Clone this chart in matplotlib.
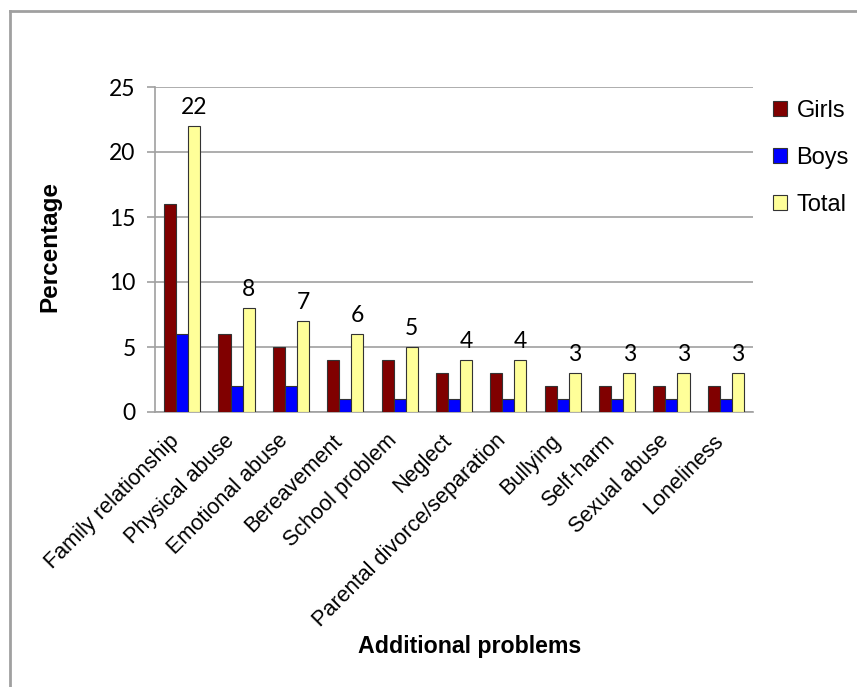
import numpy as np
import matplotlib.pyplot as plt
from matplotlib.lines import Line2D
from matplotlib.transforms import ScaledTranslation

# data
problems = ["Family relationship", "Physical abuse", "Emotional abuse", "Bereavement",
            "School problem", "Neglect", "Parental divorce/separation", "Bullying",
            "Self-harm", "Sexual abuse", "Loneliness"]
girls = [16, 6, 5, 4, 4, 3, 3, 2, 2, 2, 2]
boys = [6, 2, 2, 1, 1, 1, 1, 1, 1, 1, 1]
total = [22, 8, 7, 6, 5, 4, 4, 3, 3, 3, 3]
y_ticks = [0, 5, 10, 15, 20, 25]

W, H = 857, 687
fig = plt.figure(figsize=(W / 100, H / 100), dpi=100)
ax = fig.add_axes([155 / W, 1 - 412 / H, (753 - 155) / W, (412 - 87) / H])

x = np.arange(len(problems))
w = 0.222
edge = dict(edgecolor="#333333", linewidth=0.8, zorder=3)
ax.bar(x - w, girls, w, color="#800000", label="Girls", **edge)
ax.bar(x, boys, w, color="#0000ff", label="Boys", **edge)
ax.bar(x + w, total, w, color="#ffff99", label="Total", **edge)

# value labels over the Total bars
for xi, v in zip(x, total):
    ax.annotate(str(v), (xi + w, v), xytext=(0, 6), textcoords="offset points",
                ha="center", va="bottom", fontsize=16.5, family="Lato")

ax.set_xlim(-0.5, len(problems) - 0.5)
ax.set_ylim(0, 25)
ax.set_yticks(y_ticks)
ax.set_yticklabels([str(t) for t in y_ticks], fontsize=16.5, family="Lato")
ax.yaxis.grid(True, color="#a0a0a0", linewidth=1.2, zorder=0)
ax.set_axisbelow(True)
ax.tick_params(axis="y", length=6, color="#a0a0a0", width=1.2, pad=8)
ax.tick_params(axis="x", length=0, pad=6)
ax.set_xticks(x)
ax.set_xticklabels(problems, rotation=45, ha="right", rotation_mode="anchor",
                   fontsize=15.6, family="Liberation Sans")
shift = ScaledTranslation(-13 / 100, -10 / 100, fig.dpi_scale_trans)
for lbl in ax.get_xticklabels():
    lbl.set_transform(lbl.get_transform() + shift)
for s in ["top", "right"]:
    ax.spines[s].set_visible(False)
for s in ["left", "bottom"]:
    ax.spines[s].set_color("#a0a0a0")
    ax.spines[s].set_linewidth(1.2)

fig.text(50 / W, 1 - 247 / H, "Percentage", rotation=90, ha="center", va="center",
         fontsize=17.5, fontweight="bold", family="Liberation Sans")
fig.text(470 / W, 1 - 646 / H, "Additional problems", ha="center", va="center",
         fontsize=16.7, fontweight="bold", family="Liberation Sans")

fig.legend(loc="upper left", bbox_to_anchor=(773 / W, 1 - 100 / H), frameon=False,
           prop={"family": "Liberation Sans", "size": 17}, handlelength=0.6,
           handleheight=0.6, handletextpad=0.4, labelspacing=1.05,
           borderpad=0, borderaxespad=0)

# chart area border (left and top edges only are visible)
fig.add_artist(Line2D([10 / W, 10 / W], [0, 1 - 11 / H], color="#a0a0a0", linewidth=2,
                      transform=fig.transFigure))
fig.add_artist(Line2D([10 / W, 1], [1 - 11 / H, 1 - 11 / H], color="#a0a0a0", linewidth=2,
                      transform=fig.transFigure))

fig.savefig("out.png", dpi=100)
